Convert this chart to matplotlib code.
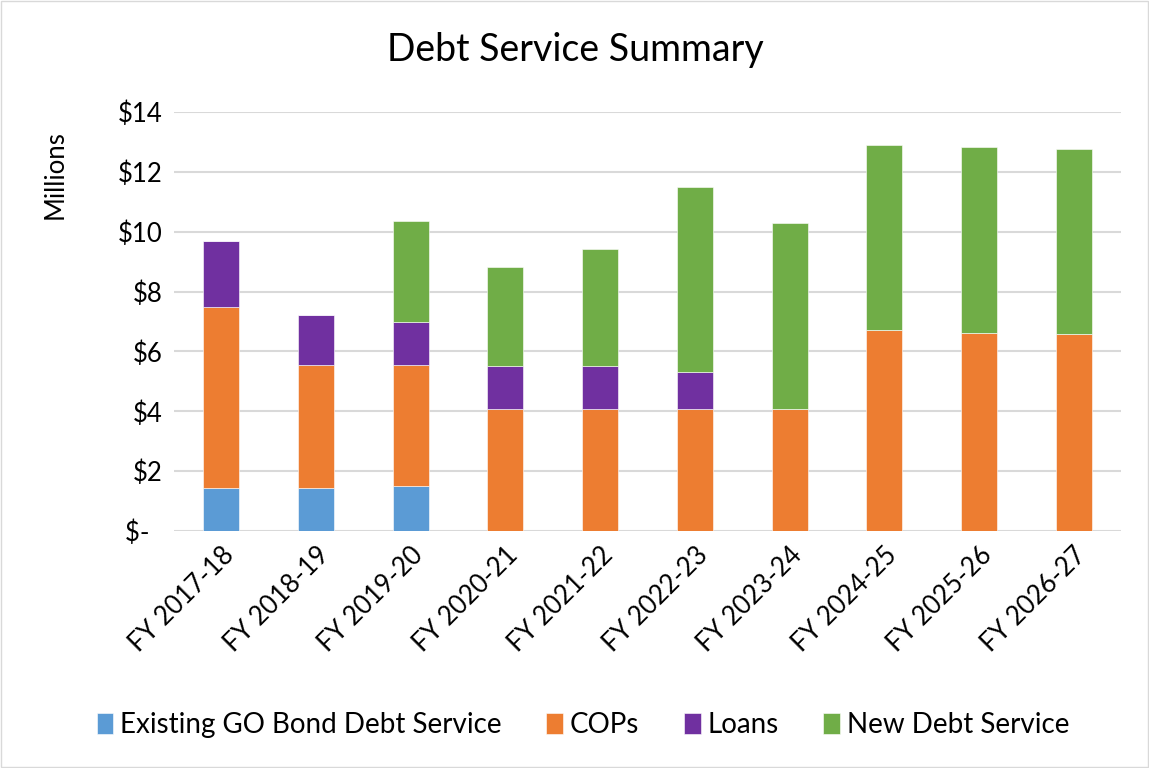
import matplotlib
matplotlib.use("Agg")
import matplotlib.pyplot as plt
import numpy as np

categories = ["FY 2017-18", "FY 2018-19", "FY 2019-20", "FY 2020-21", "FY 2021-22",
              "FY 2022-23", "FY 2023-24", "FY 2024-25", "FY 2025-26", "FY 2026-27"]
go_bond = [1.43, 1.43, 1.49, 0, 0, 0, 0, 0, 0, 0]
cops = [6.06, 4.13, 4.07, 4.09, 4.09, 4.09, 4.09, 6.70, 6.63, 6.57]
loans = [2.21, 1.66, 1.41, 1.41, 1.41, 1.21, 0, 0, 0, 0]
new_debt = [0, 0, 3.39, 3.33, 3.93, 6.19, 6.20, 6.20, 6.20, 6.20]
series_names = ["Existing GO Bond Debt Service", "COPs", "Loans", "New Debt Service"]
colors = ["#5b9bd5", "#ed7d31", "#7030a0", "#70ad47"]
yticks = [0, 2, 4, 6, 8, 10, 12, 14]
ytick_labels = ["$-  ", "$2", "$4", "$6", "$8", "$10", "$12", "$14"]

plt.rcParams['font.family'] = ['Lato', 'DejaVu Sans']

fig = plt.figure(figsize=(11.49, 7.68), dpi=100)
ax = fig.add_axes([174/1149, 1-531/768, (1121-174)/1149, (531-112)/768])

x = np.arange(len(categories))
bottom = np.zeros(len(categories))
handles = []
for vals, name, c in zip([go_bond, cops, loans, new_debt], series_names, colors):
    v = np.array(vals)
    h = ax.bar(x, v, 0.38, bottom=bottom, color=c, label=name, zorder=3,
               edgecolor="white", linewidth=0.4)
    handles.append(h)
    bottom += v

ax.set_xlim(-0.5, len(categories) - 0.5)
ax.set_ylim(0, 14)
ax.set_yticks(yticks)
ax.set_yticklabels(ytick_labels, fontsize=18.5)
ax.set_xticks(x)
ax.set_xticklabels(categories, rotation=45, ha="right", rotation_mode="anchor", fontsize=18.5)
ax.tick_params(axis="both", length=0, pad=8)
ax.grid(axis="y", color="#d9d9d9", linewidth=1.5, zorder=0)
for s in ["top", "right", "left", "bottom"]:
    ax.spines[s].set_visible(False)

fig.text(575/1149, 1-50/768, "Debt Service Summary", fontsize=27, ha="center", va="center")
fig.text(55/1149, 1-175/768, "Millions", fontsize=18.5, rotation=90, ha="center", va="center")

fig.legend(handles=handles, labels=series_names, loc="center", ncol=4,
           bbox_to_anchor=(583/1149, 1-725/768), frameon=False, fontsize=20,
           handlelength=0.6, handleheight=0.8, handletextpad=0.25, columnspacing=1.6)

fig.patches.append(plt.Rectangle((0.001, 0.001), 0.998, 0.998, transform=fig.transFigure,
                                 fill=False, edgecolor="#d9d9d9", linewidth=1))
fig.savefig("out.png", dpi=100)
